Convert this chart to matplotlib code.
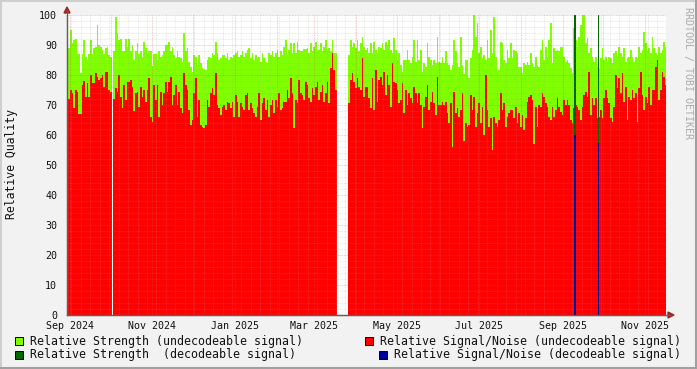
import numpy as np
import matplotlib
matplotlib.use('Agg')
import matplotlib.pyplot as plt
import matplotlib.dates as mdates
import matplotlib.ticker as mticker
from matplotlib.lines import Line2D
from matplotlib.patches import Polygon, Rectangle

nan = np.nan

# one sample every ~29.6 hours, first sample starts here
start = np.datetime64('2024-08-29T09:46')
step_min = 1778

# relative strength (undecodeable signal)
strength = [
    88, 89, 95, 90.6, 91.7, 92, 87, 87, 80.6, 87, 91.7, 86, 85, 87, 91.7, 87, 89, 89.5, 96.7, 90,
    89.5, 88.4, 87, 89, 89.5, 86.7, 86, nan, 88, 99.5, 94, 91.7, 92, 88, 88, 92, 89.5, 92, 88, 90,
    85, 88, 90.6, 87, 88, 86, 91, 89, 87, 88, 88, 83, 87, 87, 85, 88, 86, 86.7, 88, 90,
    90, 91, 88, 89.5, 86.7, 85.6, 88, 86, 85.6, 84.5, 94, 88, 89, 84.5, 82.8, 81, 86.7, 86, 83.4, 86.7,
    84, 82.3, 82, 81.7, 85, 86, 85.6, 87.3, 86.7, 91, 87.3, 85, 85.6, 86.7, 86.7, 85.6, 87.3, 85, 86, 85.6,
    86.7, 87.3, 88, 86, 86.7, 88, 86, 87.3, 88.4, 89, 85.6, 87.3, 85, 86.7, 85.6, 86, 84.5, 87.3, 85.6, 84.5,
    84, 87.3, 86.7, 88, 86, 87.3, 88.4, 86, 88, 86.7, 89.5, 91.7, 86.7, 88.4, 90.6, 87.3, 90.6, 87.3, 91, 88.4,
    88, 88, 88.6, 88.6, 89, 87.3, 90.6, 88, 89.5, 91, 88, 88.4, 90.6, 88, 89.5, 91.7, 88, 89, 88, 91.7,
    87.3, 87.3, nan, nan, nan, nan, nan, nan, nan, 86.7, 91.7, 89.5, 90.6, 89, 91.7, 88, 90.6, 92.8, 89.5, 88.4,
    89, 87.3, 90.6, 87.3, 91, 88.4, 87.3, 89.5, 89, 90.6, 88.4, 91, 90, 91.7, 88.4, 87.3, 92.3, 88.4, 85, 87.3,
    83.4, 81.1, 85, 85, 88.4, 85, 84, 86, 91.7, 84.5, 91.7, 85, 88.4, 81.1, 84, 82.8, 90.6, 86, 85, 83.4,
    85, 84, 92.8, 84.5, 84, 86, 84, 88, 84, 83.4, 81.7, 83.4, 91.7, 88, 84, 82.8, 92.8, 83.4, 80.3, 85,
    85, 79, 85.6, 88.4, 100, 92.8, 97.3, 87.3, 89.5, 85.6, 86.7, 85, 91.7, 85.6, 95, 87.3, 99.5, 86, 81.1, 81.7,
    91, 90.6, 85, 84, 88.4, 85.6, 90.6, 85.6, 88.4, 88, 87.3, 82.8, 82.8, 80.6, 84, 83.4, 84.5, 83.4, 87.3, 84,
    82.8, 86, 83.4, 82.8, 88.4, 91.7, 85, 89.5, 86, 91.7, 97.3, 84, 89, 88, 88.4, 88, 89.5, 89.5, 86, 84.5,
    85, 84, 82.3, 80.6, 95.6, 91.7, 89.5, 92.8, 96.7, 100, 100, 90.6, 92.3, 87.3, 89, 86, 84.5, 86, 82.8, 82.3,
    85.6, 89, 85, 86, 84.5, 86, 85.6, 84, 87.3, 88, 86, 89.5, 87.3, 86, 89, 84.5, 85.6, 86, 88.4, 86,
    84.5, 86, 85.6, 89.5, 87.3, 88.4, 94.5, 90.6, 88, 89, 87.3, 92.8, 89, 87.3, 86.7, 89.5, 87.3, 88.4, 91, 89.5,
]

# relative signal/noise (undecodeable signal)
snr = [
    71, 72, 75, 74, 69, 75, 74.5, 67, 67, 76.7, 78, 72.8, 77.3, 72.8, 80, 77.3, 77.3, 80.6, 79.5, 78.4,
    79, 80, 76, 81, 81, 75, 74.5, nan, 72, 75.6, 74.5, 80, 72.8, 69, 76.7, 71.7, 77.8, 77.8, 78.4, 76,
    68, 74, 74.5, 69.5, 76, 72.8, 75, 71, 75, 79, 66, 64.5, 76.7, 71.7, 76.7, 66, 74.5, 70, 74, 77.8,
    74.5, 77.8, 79.5, 70, 73.4, 76.7, 70, 74.5, 69, 67.2, 80.6, 76.7, 75, 68.4, 63.3, 65, 74, 79, 66, 71.7,
    63.3, 62.8, 62.2, 63.3, 71.7, 69.5, 74, 75.6, 73.4, 80.6, 70, 69, 66.7, 69.5, 70, 68.4, 71.1, 70.6, 69, 71.1,
    66.1, 73.4, 71.1, 66.1, 70.6, 69.5, 68.4, 73.4, 74, 68.4, 70.6, 69, 67.2, 66.1, 69.5, 74, 65, 70.6, 72.3, 68.4,
    71.7, 66.1, 70, 71.7, 67.2, 71.7, 69.5, 74, 68.4, 69, 71.1, 71.1, 75, 72.3, 79, 74, 62.2, 71.7, 70.6, 78.4,
    74, 73.4, 71.7, 77.8, 76.7, 72.3, 71.1, 75.6, 73.4, 76.1, 77.8, 71.7, 74.5, 76.7, 71.1, 74, 77.8, 70.6, 82.3, 87.3,
    81.7, 75, nan, nan, nan, nan, nan, nan, nan, 70.6, 78.4, 80.6, 77.8, 75.6, 79, 76.1, 75, 85.6, 72.8, 76.1,
    76.1, 72.3, 69, 79, 68.4, 81.7, 71.1, 78.4, 79.5, 76.7, 81.1, 73.4, 80, 76.7, 69.5, 84, 77.8, 77.3, 75, 70.6,
    71.7, 77.3, 67.2, 75, 70, 74, 72.3, 70.6, 76.1, 74, 70.6, 74, 70, 62.2, 69.5, 72.8, 76.7, 68.4, 71.1, 74.5,
    70.6, 66.7, 79.5, 70, 70, 71.1, 70, 71.1, 67.2, 63.9, 70.6, 56, 74.5, 67.2, 69, 66.1, 68.4, 74, 58, 63.9,
    62.8, 63.3, 73.4, 68.4, 72.8, 62.8, 67.2, 70.6, 63.9, 69.5, 60, 80, 68.4, 62.8, 65.6, 55, 66.1, 63.9, 62.8, 65,
    74, 68.4, 70.6, 62.8, 66.1, 67.2, 68.4, 68.4, 65.6, 69.5, 63.9, 67.2, 62.8, 66.7, 61.7, 65.6, 71.1, 72.8, 73.4, 71.7,
    57, 69.5, 62.8, 70, 69.5, 74, 72.8, 70.6, 69.5, 66.1, 65, 69.5, 66.1, 68.4, 72.3, 69.5, 67.8, 66.7, 71.7, 70,
    71.7, 70, 65, 63.9, 69, 70, 69.5, 68.4, 65, 69.5, 73.4, 74.5, 72.8, 81.1, 66.7, 72.3, 70, 72.3, 65.6, 66.1,
    68.4, 65.6, 72.3, 75, 72.3, 70.6, 65.6, 64.5, 69.5, 80, 75.6, 79, 74, 80.6, 71.1, 76.1, 65, 72.8, 71.7, 75,
    72.3, 74, 64.5, 75.6, 81.1, 73.4, 68.4, 72.8, 70.6, 76.1, 70, 75, 75, 82.8, 85, 71.7, 75, 81.1, 79.5, 76.7,
]

# decodeable signal samples
dec_times = ['2025-09-09T16:50', '2025-09-26T17:45']
dec_strength = [100, 100]
dec_snr = [60, 57.5]

legend_labels = ['Relative Strength (undecodeable signal)',
                 'Relative Signal/Noise (undecodeable signal)',
                 'Relative Strength  (decodeable signal)',
                 'Relative Signal/Noise (decodeable signal)']
colors = ['#80FF00', '#FF0000', '#006600', '#000099']

W, H = 697, 369
plt.rcParams['font.family'] = ['DejaVu Sans Mono']

fig = plt.figure(figsize=(W / 100, H / 100), dpi=100, facecolor='#F2F2F2')


def fx(px):
    return px / W


def fy(py):
    return 1 - py / H


ax = fig.add_axes([fx(67), fy(315), 599 / W, 300 / H])
ax.set_facecolor('white')

times = start + np.arange(len(strength)) * np.timedelta64(step_min, 'm')
x = mdates.date2num(times)
w = step_min / 1440

ax.bar(x, strength, width=w, align='edge', color=colors[0], linewidth=0, zorder=1)
ax.bar(x, snr, width=w, align='edge', color=colors[1], linewidth=0, zorder=1.1)
xd = mdates.date2num(np.array(dec_times, dtype='datetime64[m]'))
ax.bar(xd, dec_strength, width=1.2, align='edge', color=colors[2], linewidth=0, zorder=1.2)
ax.bar(xd, dec_snr, width=1.2, align='edge', color=colors[3], linewidth=0, zorder=1.3)

ax.set_xlim(mdates.date2num(np.datetime64('2024-08-29T18:40')),
            mdates.date2num(np.datetime64('2025-11-16T11:30')))
ax.set_ylim(0, 100)

ax.yaxis.set_major_locator(mticker.MultipleLocator(10))
ax.yaxis.set_minor_locator(mticker.MultipleLocator(2))
ax.xaxis.set_major_locator(mdates.MonthLocator())
ax.xaxis.set_minor_locator(mdates.WeekdayLocator(byweekday=mdates.MO))
ax.xaxis.set_major_formatter(mticker.FuncFormatter(
    lambda v, p: mdates.num2date(v).strftime('%b %Y') if mdates.num2date(v).month % 2 == 1 else ''))

ax.set_axisbelow(False)
ax.grid(which='minor', color='#A0A0A0', linestyle=(0, (1, 1)), linewidth=0.55, alpha=0.35)
ax.grid(which='major', color='#D05050', linestyle=(0, (1, 1)), linewidth=0.55, alpha=0.45)

ax.tick_params(which='both', length=0, labelsize=7.2, colors='#111111')
ax.tick_params(axis='x', pad=4.5)
ax.tick_params(axis='y', pad=7)
for s in ['top', 'right']:
    ax.spines[s].set_visible(False)
for s in ['left', 'bottom']:
    ax.spines[s].set_color('#606060')
    ax.spines[s].set_linewidth(1)

# axis extensions and arrows
fig.add_artist(Line2D([fx(67), fx(67)], [fy(315), fy(11)], color='#606060', lw=0.8))
fig.add_artist(Line2D([fx(67), fx(670)], [fy(315), fy(315)], color='#606060', lw=0.8))
fig.add_artist(Polygon([(fx(64), fy(13)), (fx(70), fy(13)), (fx(67), fy(7))],
                       closed=True, color='#A02828', transform=fig.transFigure))
fig.add_artist(Polygon([(fx(668), fy(312)), (fx(668), fy(318)), (fx(674), fy(315))],
                       closed=True, color='#A02828', transform=fig.transFigure))

fig.text(fx(12), fy(164), 'Relative Quality', rotation=90, ha='center', va='center',
         fontsize=8.3, color='#111111')
fig.text(fx(688), fy(73), 'RRDTOOL / TOBI OETIKER', rotation=270, ha='center', va='center',
         fontsize=7.2, color='#AAAAAA')

# legend
leg_pos = [(15, 30, 341), (365, 380, 341), (15, 30, 354.5), (379, 394, 354.5)]
for (bx, tx, ty), lab, col in zip(leg_pos, legend_labels, colors):
    fig.add_artist(Rectangle((fx(bx), fy(ty + 4)), 8 / W, 8 / H, transform=fig.transFigure,
                             facecolor=col, edgecolor='black', linewidth=0.7))
    fig.text(fx(tx), fy(ty), lab, ha='left', va='center', fontsize=8.35, color='#111111')

# frame
fig.add_artist(Line2D([0, 1], [fy(0.5), fy(0.5)], color='#CFCFCF', lw=1.5))
fig.add_artist(Line2D([fx(0.5), fx(0.5)], [0, 1], color='#CFCFCF', lw=1.5))
fig.add_artist(Line2D([0, 1], [fy(368), fy(368)], color='#A0A0A0', lw=1.5))
fig.add_artist(Line2D([fx(696), fx(696)], [0, 1], color='#A0A0A0', lw=1.5))

fig.savefig('out.png', dpi=100, facecolor=fig.get_facecolor())
